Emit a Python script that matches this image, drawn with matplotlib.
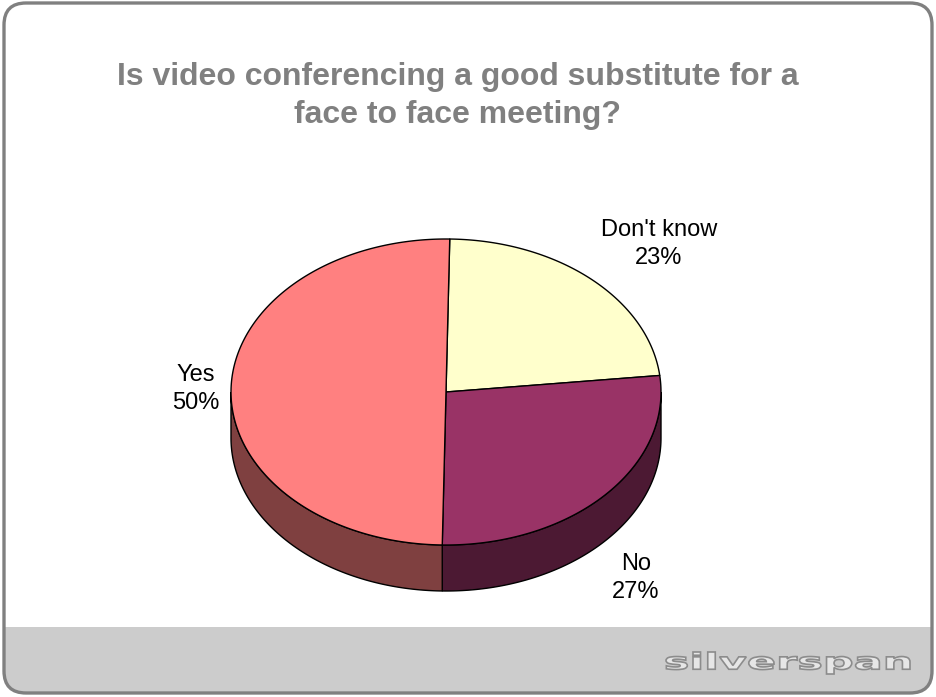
import numpy as np
import matplotlib
matplotlib.use("Agg")
import matplotlib.pyplot as plt
from matplotlib.patches import Polygon, FancyBboxPatch, Rectangle, PathPatch
from matplotlib.textpath import TextPath
from matplotlib.font_manager import FontProperties
from matplotlib.transforms import Affine2D

# Survey answers
categories = ["Don't know", "No", "Yes"]
shares = [23, 27, 50]
top_colors = ["#FFFFCC", "#993366", "#FF8080"]
side_colors = ["#7F7F66", "#4C1933", "#7F4040"]

title = "Is video conferencing a good substitute for a\nface to face meeting?"

W, H = 937, 697
fig = plt.figure(figsize=(W / 100, H / 100), dpi=100)
ax = fig.add_axes([0, 0, 1, 1])
ax.set_xlim(0, W)
ax.set_ylim(H, 0)
ax.axis("off")

# Rounded frame with grey footer band
frame = FancyBboxPatch((4, 3), W - 9, H - 7, boxstyle="round,pad=0,rounding_size=22",
                       facecolor="white", edgecolor="none", zorder=0)
ax.add_patch(frame)
band = Rectangle((0, 627), W, H - 627, facecolor="#CCCCCC", edgecolor="none", zorder=1)
ax.add_patch(band)
band.set_clip_path(frame)
ax.add_patch(FancyBboxPatch((4, 3), W - 9, H - 7, boxstyle="round,pad=0,rounding_size=22",
                            facecolor="none", edgecolor="#808080", lw=2.4, zorder=20))

ax.text(458, 96, title, ha="center", va="center", fontsize=23, fontweight="bold",
        color="#808080", family="Liberation Sans", linespacing=1.32, zorder=5)

# 3-D pie geometry
cx, cy = 446, 392
a, b = 215, 153
depth = 46
start_angle = 89


def rim(t):
    return cx + a * np.cos(np.radians(t)), cy - b * np.sin(np.radians(t))


fractions = np.array(shares, dtype=float) / sum(shares)
starts = start_angle - 360 * np.concatenate([[0], np.cumsum(fractions)[:-1]])
ends = starts - 360 * fractions

# Visible side walls (front half of the rim)
for s, e, col in zip(starts, ends, side_colors):
    lo, hi = e, s
    for shift in (0, -360, 360):
        l2, h2 = max(lo + shift, -180), min(hi + shift, 0)
        if h2 > l2:
            t = np.linspace(l2, h2, 120)
            x, y = rim(t)
            pts = np.concatenate([np.column_stack([x, y]),
                                  np.column_stack([x[::-1], y[::-1] + depth])])
            ax.add_patch(Polygon(pts, closed=True, facecolor=col, edgecolor="black",
                                 lw=1.0, zorder=3))

# Top faces
for s, e, col in zip(starts, ends, top_colors):
    t = np.linspace(s, e, 200)
    x, y = rim(t)
    pts = np.vstack([[cx, cy], np.column_stack([x, y])])
    ax.add_patch(Polygon(pts, closed=True, facecolor=col, edgecolor="black",
                         lw=1.0, zorder=4, joinstyle="round"))

# Data labels
label_pos = [(659, 244), (636, 578), (196, 389)]
for name, v, (lx, ly) in zip(categories, shares, label_pos):
    ax.text(lx, ly, f"{name}\n{v}%", ha="center", va="center", fontsize=17,
            family="Liberation Sans", color="black", linespacing=1.32, zorder=6)

# Footer logo
fp = FontProperties(family="DejaVu Sans", weight="bold")
tp = TextPath((0, 0), "silverspan", size=10, prop=fp)
ext = tp.get_extents()
sx = 244 / ext.width
sy = 22 / ext.height
tr = Affine2D().translate(-ext.x0, -ext.y0).scale(sx, -sy).translate(666, 674)
logo = PathPatch(tr.transform_path(tp), facecolor="#E6E6E6", edgecolor="#8C8C8C",
                 lw=1.2, zorder=6)
ax.add_patch(logo)

fig.savefig("out.png", dpi=100)
